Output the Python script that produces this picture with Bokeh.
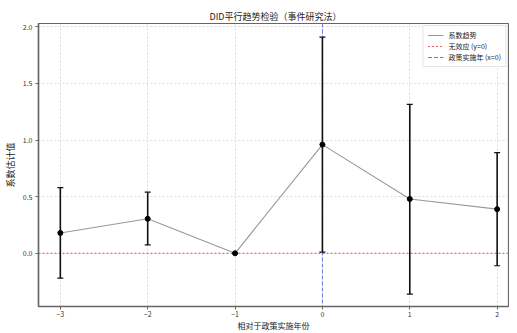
from bokeh.plotting import figure
from bokeh.models import (Range1d, FixedTicker, Span, Legend, LegendItem,
                          ColumnDataSource)
from bokeh.embed import file_html
from bokeh.resources import INLINE

# data
rel_year = [-3, -2, -1, 0, 1, 2]
coef = [0.18, 0.305, 0.0, 0.96, 0.48, 0.39]
ci_low = [-0.22, 0.075, 0.0, 0.01, -0.36, -0.11]
ci_high = [0.58, 0.54, 0.0, 1.91, 1.316, 0.89]
x_tick_labels = ["\u22123", "\u22122", "\u22121", "0", "1", "2"]
y_ticks = [0.0, 0.5, 1.0, 1.5, 2.0]
no_effect_y = 0
policy_x = 0

FONT = "Noto Sans CJK SC"
RED = "#e03030"
BLUE = "#4a55d0"

p = figure(width=509, height=333, output_backend="svg", toolbar_location=None,
           x_range=Range1d(-3.25, 2.13), y_range=Range1d(-0.47, 2.03),
           min_border_left=28, min_border_right=1, min_border_top=23,
           min_border_bottom=20)

p.title.text = "DID平行趋势检验（事件研究法）"
p.title.text_font = FONT
p.title.text_font_size = "9px"
p.title.text_font_style = "normal"
p.title.text_color = "#222222"
p.title.align = "left"
p.title.offset = 171
p.title.standoff = 1

# grid
for g in (p.xgrid, p.ygrid):
    g.grid_line_color = "#cccccc"
    g.grid_line_dash = "2 2"
    g.grid_line_width = 0.7

p.outline_line_color = "#666666"
p.outline_line_width = 1.2

# axes
p.xaxis.ticker = FixedTicker(ticks=rel_year)
p.xaxis.major_label_overrides = {v: s for v, s in zip(rel_year, x_tick_labels)}
p.yaxis.ticker = FixedTicker(ticks=y_ticks)
p.yaxis.major_label_overrides = {v: f"{v:.1f}" for v in y_ticks}
for ax in (p.xaxis, p.yaxis):
    ax.axis_line_color = "#666666"
    ax.axis_line_width = 1.5
    ax.major_tick_line_color = "#666666"
    ax.major_tick_out = 3
    ax.major_tick_in = 0
    ax.minor_tick_line_color = None
    ax.major_label_text_font = FONT
    ax.major_label_text_font_size = "7px"
    ax.major_label_text_color = "#333333"
    ax.major_label_standoff = 3
    ax.axis_label_text_font = FONT
    ax.axis_label_text_font_style = "normal"
    ax.axis_label_text_color = "#222222"
p.xaxis.major_label_standoff = 1
p.xaxis.axis_label = "相对于政策实施年份"
p.xaxis.axis_label_text_font_size = "8px"
p.xaxis.axis_label_standoff = 0
p.yaxis.axis_label = "系数估计值"
p.yaxis.axis_label_text_font_size = "9px"
p.yaxis.axis_label_standoff = 3

# reference lines, beneath the data
p.add_layout(Span(location=no_effect_y, dimension="width", line_color=RED,
                  line_dash="2 2", line_width=0.8, level="underlay"))
p.add_layout(Span(location=policy_x, dimension="height", line_color=BLUE,
                  line_dash="4 2", line_width=0.8, level="underlay"))

src = ColumnDataSource(dict(x=rel_year, y=coef, lo=ci_low, hi=ci_high))

r_line = p.line("x", "y", source=src, line_color="#999999", line_width=1.1)
p.segment(x0="x", y0="lo", x1="x", y1="hi", source=src, line_color="#111111",
          line_width=1.6)
p.scatter("x", "lo", source=src, marker="dash", size=6, line_color="#111111",
          line_width=1.2)
p.scatter("x", "hi", source=src, marker="dash", size=6, line_color="#111111",
          line_width=1.2)
p.scatter("x", "y", source=src, marker="circle", size=5, fill_color="black",
          line_color="black")

# legend proxies (no visible data)
nan = float("nan")
r_red = p.line(x=[nan], y=[nan], line_color=RED, line_dash="2 2", line_width=0.8)
r_blue = p.line(x=[nan], y=[nan], line_color=BLUE, line_dash="4 2", line_width=0.8)

legend = Legend(items=[
    LegendItem(label="系数趋势", renderers=[r_line]),
    LegendItem(label="无效应 (y=0)", renderers=[r_red]),
    LegendItem(label="政策实施年 (x=0)", renderers=[r_blue]),
], location="top_right")
legend.label_text_font = FONT
legend.label_text_font_size = "7px"
legend.label_text_color = "#222222"
legend.glyph_width = 16
legend.glyph_height = 10
legend.label_height = 10
legend.spacing = 1
legend.padding = 4
legend.margin = 2
legend.border_line_color = "#cccccc"
legend.background_fill_alpha = 0.85
p.add_layout(legend)

open("out.html", "w").write(file_html(p, INLINE))
